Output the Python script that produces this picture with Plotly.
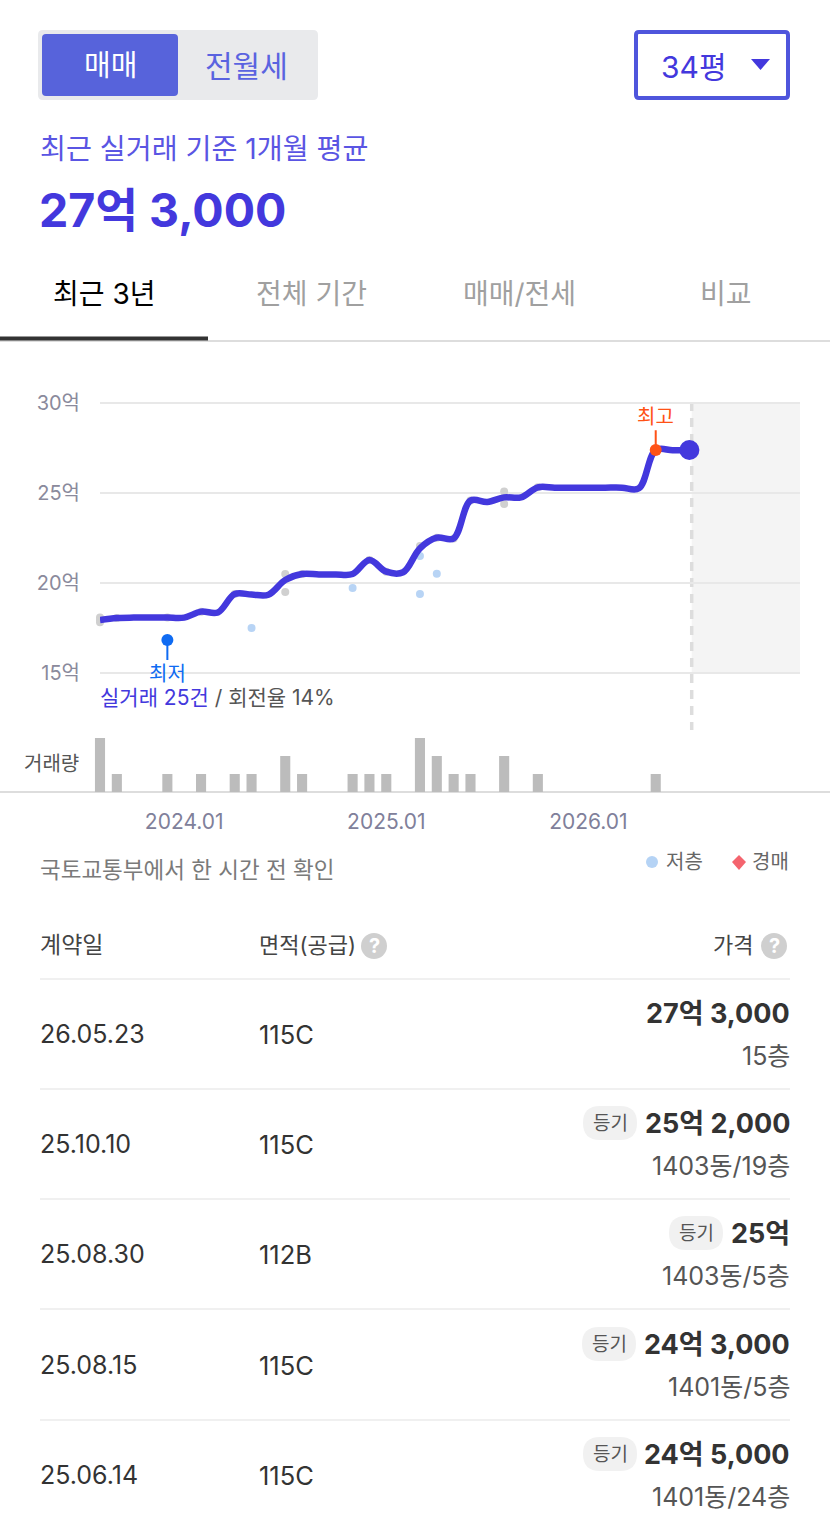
import plotly.graph_objects as go

W, H = 830, 1530
FONT = "Inter, Noto Sans CJK KR, sans-serif"

months = [f"{2023 + (7 + i) // 12}.{(7 + i) % 12 + 1:02d}" for i in range(36)]
avg_price = [17.92, 18.03, 18.05, 18.05, 18.05, 18.05, 18.38, 18.34, 19.36, 19.33, 19.32, 20.14,
             20.47, 20.45, 20.45, 20.47, 21.25, 20.6, 20.57, 21.9, 22.49, 22.45, 24.55, 24.47,
             24.73, 24.73, 25.29, 25.27, 25.27, 25.27, 25.27, 25.27, 25.23, 27.36, 27.35, 27.36]
volume = [3, 1, 0, 0, 1, 0, 1, 0, 1, 1, 0, 2, 1, 0, 0, 1, 1, 1, 0, 3, 2, 1, 1, 0,
          2, 0, 1, 0, 0, 0, 0, 0, 0, 1, 0, 0]
gray_m = ["2023.08", "2023.08", "2023.08", "2023.09", "2023.12", "2024.02", "2024.04", "2024.07", "2024.07",
          "2024.08", "2024.12", "2025.01", "2025.03", "2025.04", "2025.05", "2025.06", "2025.08", "2025.08",
          "2025.10", "2026.05"]
gray_v = [18.06, 17.79, 17.92, 18.03, 18.05, 18.38, 19.36, 20.47, 19.47, 20.47, 21.25, 20.6, 22.03, 22.49,
          22.45, 24.55, 25.05, 24.36, 25.29, 27.36]
low_m = ["2024.05", "2024.11", "2025.03", "2025.03", "2025.04"]
low_v = [17.47, 19.69, 21.47, 19.36, 20.49]
y_ticks = [15, 20, 25, 30]
x_ticks = ["2024.01", "2025.01", "2026.01"]
min_point = ("2023.12", 16.8)
max_point = ("2026.05", 27.36)
rows = [
    ("26.05.23", "115C", "27억 3,000", "15층", False),
    ("25.10.10", "115C", "25억 2,000", "1403동/19층", True),
    ("25.08.30", "112B", "25억", "1403동/5층", True),
    ("25.08.15", "115C", "24억 3,000", "1401동/5층", True),
    ("25.06.14", "115C", "24억 5,000", "1401동/24층", True),
]
row_lines = [979, 1089, 1199, 1309, 1420]
row_mid = [1034, 1144, 1254, 1365, 1475]

PX_MONTH = 16.84
BLUE = "#4338dd"

def px(x):
    return x / W

def py(y):
    return 1 - y / H

def rrect(x0, y0, x1, y1, r):
    xs = lambda v: f"{px(v):.6f}"
    ys = lambda v: f"{py(v):.6f}"
    return (f"M{xs(x0 + r)},{ys(y0)} L{xs(x1 - r)},{ys(y0)} Q{xs(x1)},{ys(y0)} {xs(x1)},{ys(y0 + r)} "
            f"L{xs(x1)},{ys(y1 - r)} Q{xs(x1)},{ys(y1)} {xs(x1 - r)},{ys(y1)} "
            f"L{xs(x0 + r)},{ys(y1)} Q{xs(x0)},{ys(y1)} {xs(x0)},{ys(y1 - r)} "
            f"L{xs(x0)},{ys(y0 + r)} Q{xs(x0)},{ys(y0)} {xs(x0 + r)},{ys(y0)} Z")

shapes, ann = [], []

def path(x0, y0, x1, y1, r, fill, line=None, lw=0):
    shapes.append(dict(type="path", xref="paper", yref="paper", path=rrect(x0, y0, x1, y1, r),
                       fillcolor=fill, line=dict(color=line or fill, width=lw), layer="below"))

def hline(x0, x1, y, color, w):
    shapes.append(dict(type="line", xref="paper", yref="paper", x0=px(x0), x1=px(x1), y0=py(y), y1=py(y),
                       line=dict(color=color, width=w), layer="below"))

def text(x, y, s, size, color, anchor="left", bold=False):
    shift = {"left": -2, "right": 2, "center": 0}[anchor]
    ann.append(dict(xref="paper", yref="paper", x=px(x), y=py(y), text=f"<b>{s}</b>" if bold else s,
                    showarrow=False, xanchor=anchor, yanchor="middle", align=anchor, xshift=shift,
                    font=dict(family=FONT, size=size, color=color)))

# top controls
path(38, 30, 318, 100, 5, "#e9eaec")
path(42, 34, 178, 96, 4, "#5763db")
text(110, 66, "매매", 29, "#ffffff", "center")
text(246, 66, "전월세", 30, "#5a63e0", "center")
path(636, 32, 788, 98, 3, "#ffffff", "#4f55dc", 4)
text(661, 67, "34평", 30, BLUE)
shapes.append(dict(type="path", xref="paper", yref="paper", fillcolor=BLUE, line=dict(width=0),
                   path=f"M{px(751)},{py(59)} L{px(770)},{py(59)} L{px(760.5)},{py(70)} Z"))
text(40, 149, "최근 실거래 기준 1개월 평균", 28.2, "#5a55e3")
text(39, 210, "27억 3,000", 46.5, BLUE, bold=True)

# tabs
for cx, s, c in [(104, "최근 3년", "#000000"), (311, "전체 기간", "#a0a0a0"),
                 (519, "매매/전세", "#a0a0a0"), (726, "비교", "#a0a0a0")]:
    text(cx, 293.5, s, 28, c, "center")
hline(0, 830, 341, "#dddddd", 2)
hline(0, 208, 338.5, "#333333", 4)

# chart side elements
FUTURE = (691.7 - 100) / PX_MONTH
shapes.append(dict(type="rect", xref="x", yref="paper", x0=FUTURE, x1=(800 - 100) / PX_MONTH,
                   y0=py(672.5), y1=py(402.5), fillcolor="#f4f4f4", line=dict(width=0), layer="below"))
shapes.append(dict(type="line", xref="x", yref="paper", x0=FUTURE, x1=FUTURE, y0=py(402), y1=py(730),
                   line=dict(color="#dddddd", width=3.5, dash="9px,7px"), layer="below"))
hline(0, 830, 792, "#dddddd", 2)
text(100, 698, '<span style="color:#4338dd">실거래 25건</span> / 회전율 14%', 21, "#555555")
text(79, 764, "거래량", 20, "#555555", "right")
text(40, 869, "국토교통부에서 한 시간 전 확인", 22.5, "#7a7a7a")
shapes.append(dict(type="circle", xref="paper", yref="paper", x0=px(646), x1=px(658), y0=py(868), y1=py(856),
                   fillcolor="#b5d3f5", line=dict(width=0)))
text(666, 862, "저층", 20, "#666666")
shapes.append(dict(type="path", xref="paper", yref="paper", fillcolor="#f4646e", line=dict(width=0),
                   path=f"M{px(739)},{py(855)} L{px(746)},{py(862)} L{px(739)},{py(870)} L{px(732)},{py(862)} Z"))
text(752, 862, "경매", 20, "#666666")

# table
text(40, 945, "계약일", 23, "#444444")
text(259, 945, "면적(공급)", 22, "#444444")
text(753, 945, "가격", 22, "#444444", "right")
for cx in (374, 774):
    shapes.append(dict(type="circle", xref="paper", yref="paper", x0=px(cx - 13), x1=px(cx + 13),
                       y0=py(946 + 13), y1=py(946 - 13), fillcolor="#cfcfcf", line=dict(width=0)))
    text(cx, 946, "?", 20, "#ffffff", "center", bold=True)
chip_left = [None, 583, 669, 582, 583]
for i, (d, a, p, f, chip) in enumerate(rows):
    hline(40, 790, row_lines[i], "#f0f0f0", 2)
    text(40, row_mid[i], d, 25, "#333333")
    text(259, row_mid[i], a, 25.5, "#333333")
    text(790, row_mid[i] - 21, p, 27, "#333333", "right", bold=True)
    text(790, row_mid[i] + 22, f, 25, "#555555", "right")
    if chip:
        x0 = chip_left[i]
        path(x0, row_mid[i] - 38, x0 + 54, row_mid[i] - 4, 17, "#f1f1f1")
        text(x0 + 27, row_mid[i] - 21, "등기", 19, "#555555", "center")

fig = go.Figure()
fig.add_trace(go.Scatter(x=gray_m, y=gray_v, mode="markers", cliponaxis=False,
                         marker=dict(size=8, color="#d0d0d0")))
fig.add_trace(go.Scatter(x=low_m, y=low_v, mode="markers", cliponaxis=False,
                         marker=dict(size=8, color="#b8d4f5")))
fig.add_trace(go.Scatter(x=months, y=avg_price, mode="lines", cliponaxis=False,
                         line=dict(color=BLUE, width=6.5, shape="spline", smoothing=1.0)))
fig.add_trace(go.Scatter(x=[months[-1]], y=[avg_price[-1]], mode="markers", cliponaxis=False,
                         marker=dict(size=20, color=BLUE)))
fig.add_trace(go.Scatter(x=[min_point[0], min_point[0]], y=[min_point[1], min_point[1] - 1.1],
                         mode="lines", cliponaxis=False, line=dict(color="#0f6bf2", width=2)))
fig.add_trace(go.Scatter(x=[max_point[0], max_point[0]], y=[max_point[1], max_point[1] + 1.1],
                         mode="lines", cliponaxis=False, line=dict(color="#ff5216", width=2)))
fig.add_trace(go.Scatter(x=[min_point[0]], y=[min_point[1]], mode="markers", cliponaxis=False,
                         marker=dict(size=12, color="#0f6bf2")))
fig.add_trace(go.Scatter(x=[max_point[0]], y=[max_point[1]], mode="markers", cliponaxis=False,
                         marker=dict(size=12, color="#ff5216")))
fig.add_trace(go.Bar(x=months, y=volume, xaxis="x2", yaxis="y2", marker=dict(color="#bcbcbc", line=dict(width=0)),
                     width=0.6))

ann.append(dict(x=months.index(min_point[0]), y=min_point[1] - 1.1, xref="x", yref="y", text="최저", showarrow=False,
                yanchor="top", xanchor="center", yshift=0, font=dict(family=FONT, size=20, color="#0f6bf2")))
ann.append(dict(x=months.index(max_point[0]), y=max_point[1] + 1.1, xref="x", yref="y", text="최고", showarrow=False,
                yanchor="bottom", xanchor="center", yshift=-1, font=dict(family=FONT, size=20, color="#ff5216")))

common_x = dict(type="category", categoryorder="array", categoryarray=months, showgrid=False, showline=False,
                zeroline=False)
fig.update_layout(
    width=W, height=H, autosize=False, margin=dict(l=0, r=0, t=0, b=0, pad=0, autoexpand=False), showlegend=False,
    paper_bgcolor="#ffffff", plot_bgcolor="rgba(0,0,0,0)", shapes=shapes, annotations=ann,
    xaxis=dict(domain=[px(100), px(800)], range=[0, (800 - 100) / PX_MONTH], anchor="y",
               showticklabels=False, ticks="", **common_x),
    xaxis2=dict(domain=[px(80), px(800)], range=[-20 / PX_MONTH, (800 - 100) / PX_MONTH], anchor="y2",
                tickvals=x_ticks, ticktext=x_ticks, ticks="outside", ticklen=11, tickcolor="rgba(0,0,0,0)",
                tickangle=0, tickfont=dict(family=FONT, size=21, color="#80809a"), **common_x),
    yaxis=dict(domain=[py(674.3), py(400.7)], range=[14.9, 30.1], tickvals=y_ticks,
               ticktext=[f"{v}억" for v in y_ticks], ticks="outside", ticklen=15, tickcolor="rgba(0,0,0,0)",
               gridcolor="#e8e8e8", gridwidth=2, showline=False, zeroline=False, anchor="x",
               tickfont=dict(family=FONT, size=20, color="#8a8a9c")),
    yaxis2=dict(domain=[py(792), py(738)], range=[0, 3], visible=False, anchor="x2"),
)
fig.write_html("out.html", config=dict(displayModeBar=False),
               post_script="document.body.style.margin='0';document.body.style.overflow='hidden';")
